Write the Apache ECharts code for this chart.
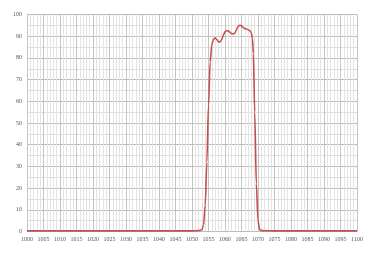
<!DOCTYPE html>
<html><head><meta charset="utf-8">
<script src="https://cdn.jsdelivr.net/npm/echarts@6/dist/echarts.min.js"></script>
<style>html,body{margin:0;padding:0;background:#fff}#c{width:384px;height:257px}</style>
</head><body><div id="c"></div>
<script>
const wavelengths = [1000, 1050, 1052, 1053, 1053.5, 1054, 1054.5, 1055, 1055.5, 1056, 1056.5, 1057, 1057.5, 1058, 1058.5, 1059, 1059.5, 1060, 1060.5, 1061, 1061.5, 1062, 1062.5, 1063, 1063.5, 1064, 1064.5, 1065, 1065.5, 1066, 1066.5, 1067, 1067.5, 1068, 1068.3, 1068.6, 1069, 1069.5, 1070, 1070.5, 1071, 1075, 1100];
const transmission = [0.3, 0.3, 0.4, 0.8, 3, 12, 32, 58, 78, 86, 88.5, 89.3, 88.5, 87.5, 87.3, 88.5, 90.5, 92, 92.5, 92.5, 91.8, 91.2, 91, 91.5, 93, 94.5, 95, 94.8, 94, 93.5, 93.3, 93, 92.6, 91.5, 89, 82, 55, 22, 5, 1, 0.4, 0.3, 0.3];
const xTicks = {min: 1000, max: 1100, step: 5};
const yTicks = {min: 0, max: 100, step: 10};

const data = wavelengths.map((w, i) => [w, transmission[i]]);
const chart = echarts.init(document.getElementById('c'), null, {renderer: 'canvas'});
chart.setOption({
  animation: false,
  grid: {left: 27, right: 27, top: 14.5, bottom: 25.5},
  xAxis: {
    type: 'value', min: xTicks.min, max: xTicks.max, interval: xTicks.step,
    axisLine: {show: false}, axisTick: {show: false},
    axisLabel: {fontSize: 6, color: '#555', margin: 5, fontFamily: 'Liberation Serif', formatter: v => String(v)},
    splitLine: {show: true, lineStyle: {color: '#c4c4c4', width: 1}},
    minorTick: {show: false, splitNumber: 5},
    minorSplitLine: {show: true, lineStyle: {color: '#e3e3e3', width: 1}}
  },
  yAxis: {
    type: 'value', min: yTicks.min, max: yTicks.max, interval: yTicks.step,
    axisLine: {show: false}, axisTick: {show: false},
    axisLabel: {fontSize: 6, color: '#555', margin: 5, fontFamily: 'Liberation Serif', formatter: v => String(v)},
    splitLine: {show: true, lineStyle: {color: '#b8b8b8', width: 1}},
    minorTick: {show: false, splitNumber: 2},
    minorSplitLine: {show: true, lineStyle: {color: '#dedede', width: 1}}
  },
  series: [{
    type: 'line', data: data, smooth: 0.3, smoothMonotone: 'x', showSymbol: false,
    lineStyle: {color: '#c4504e', width: 1.6}
  }]
});
</script></body></html>
